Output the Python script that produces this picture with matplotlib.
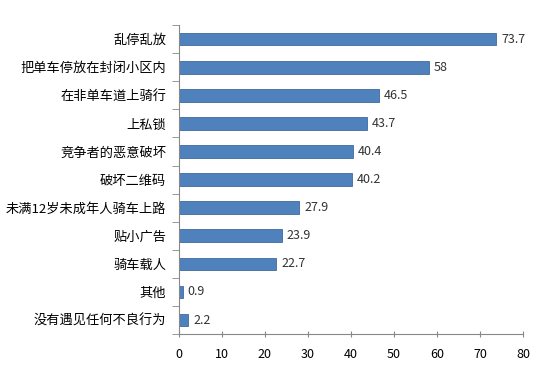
import matplotlib
matplotlib.use("Agg")
import matplotlib.pyplot as plt
import numpy as np

plt.rcParams['font.family'] = ['Noto Sans CJK SC', 'DejaVu Sans']

categories = ["乱停乱放", "把单车停放在封闭小区内", "在非单车道上骑行", "上私锁",
              "竞争者的恶意破坏", "破坏二维码", "未满12岁未成年人骑车上路",
              "贴小广告", "骑车载人", "其他", "没有遇见任何不良行为"]
values = [73.7, 58, 46.5, 43.7, 40.4, 40.2, 27.9, 23.9, 22.7, 0.9, 2.2]
value_labels = ["73.7", "58", "46.5", "43.7", "40.4", "40.2", "27.9", "23.9", "22.7", "0.9", "2.2"]
xticks = [0, 10, 20, 30, 40, 50, 60, 70, 80]

fig = plt.figure(figsize=(5.4, 3.75), dpi=100)
ax = fig.add_axes([0.331, 0.109, 0.638, 0.824])

y = np.arange(len(categories))
ax.barh(y, values, height=0.45, color="#4F81BD", edgecolor="#3E6A9E", linewidth=0.6)
for yi, v, lab in zip(y, values, value_labels):
    ax.text(v + 1.2, yi, lab, va="center", ha="left", fontsize=9, color="#333333")

ax.set_ylim(len(categories) - 0.5, -0.5)
ax.set_xlim(0, 80)
ax.set_xticks(xticks)
ax.set_yticks(y)
ax.set_yticklabels(categories, fontsize=9.5)
ax.set_yticks(np.arange(len(categories) + 1) - 0.5, minor=True)
ax.tick_params(axis="y", which="major", length=0, pad=9)
ax.tick_params(axis="y", which="minor", length=5, color="#888888")
ax.tick_params(axis="x", length=4, direction="inout", color="#888888", labelsize=9, pad=8)

for s in ["top", "right"]:
    ax.spines[s].set_visible(False)
for s in ["left", "bottom"]:
    ax.spines[s].set_color("#888888")

fig.savefig("out.png", dpi=100)
